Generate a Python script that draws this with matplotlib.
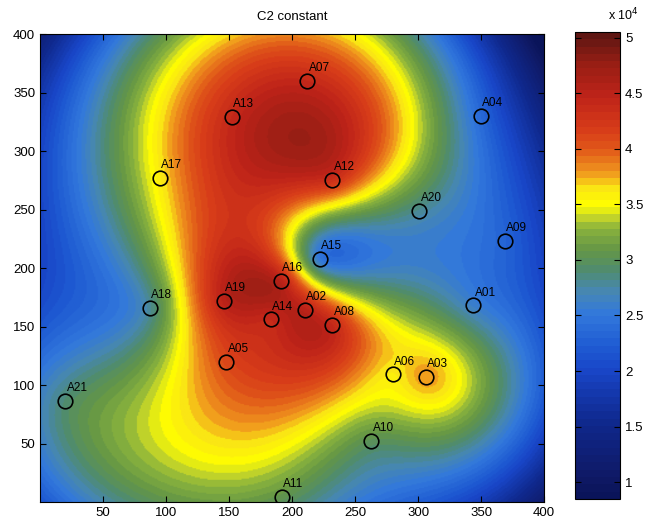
import numpy as np
import matplotlib
matplotlib.use("Agg")
import matplotlib.pyplot as plt
from matplotlib.colors import LinearSegmentedColormap, ListedColormap

plt.rcParams["font.family"] = ["Liberation Sans", "DejaVu Sans"]

names = ["A01","A02","A03","A04","A05","A06","A07","A08","A09","A10","A11",
         "A12","A13","A14","A15","A16","A17","A18","A19","A20","A21"]
px = [344, 210, 306, 350, 148, 280, 212, 232, 369, 263, 192,
      232, 152, 183, 222, 191, 95, 87, 146, 301, 20]
py = [168, 164, 107, 330, 120, 109, 360, 151, 223, 52, 4,
      275, 329, 156, 208, 189, 277, 166, 172, 249, 86]
# values in units of 1e4
vals = [2.6, 4.5, 3.8, 2.35, 4.1, 3.6, 4.4, 4.4, 2.3, 3.0, 3.05,
        4.3, 4.4, 4.4, 2.5, 4.5, 3.6, 2.8, 4.5, 2.8, 2.9]

vmin, vmax = 0.85, 5.05
cb_ticks = [1, 1.5, 2, 2.5, 3, 3.5, 4, 4.5, 5]
x_ticks = [50, 100, 150, 200, 250, 300, 350, 400]
y_ticks = [50, 100, 150, 200, 250, 300, 350, 400]

anchors = [
    (0.85, (10, 20, 90)), (1.0, (15, 25, 100)), (1.5, (15, 40, 140)),
    (2.0, (25, 70, 200)), (2.2, (30, 90, 210)), (2.5, (50, 120, 220)),
    (2.7, (70, 135, 180)), (2.9, (80, 140, 110)), (3.1, (100, 150, 70)),
    (3.3, (140, 180, 60)), (3.4, (200, 215, 40)), (3.5, (255, 255, 0)),
    (3.65, (250, 230, 20)), (3.8, (240, 150, 30)), (4.0, (225, 90, 25)),
    (4.2, (215, 60, 25)), (4.5, (190, 35, 25)), (4.8, (150, 30, 20)),
    (5.05, (95, 22, 18)),
]
cl = [((v - vmin) / (vmax - vmin), tuple(c / 255 for c in col)) for v, col in anchors]
base = LinearSegmentedColormap.from_list("c2", cl)
cmap = ListedColormap(base(np.linspace(0, 1, 64)))

# biharmonic spline interpolation (griddata 'v4')
xs = np.array(px, float); ys = np.array(py, float); zs = np.array(vals, float)
P = xs + 1j * ys
d = np.abs(P[:, None] - P[None, :])
with np.errstate(divide="ignore", invalid="ignore"):
    G = d**2 * (np.log(d) - 1)
G[np.isnan(G)] = 0
np.fill_diagonal(G, 0)
w = np.linalg.solve(G, zs)
gx = np.linspace(0, 400, 401)
GX, GY = np.meshgrid(gx, gx)
D = np.abs((GX + 1j * GY)[..., None] - P[None, None, :])
with np.errstate(divide="ignore", invalid="ignore"):
    GG = D**2 * (np.log(D) - 1)
GG[np.isnan(GG)] = 0
Z = GG @ w

fig = plt.figure(figsize=(6.5, 5.24), dpi=100)
ax = fig.add_axes([0.0615, 0.042, 0.7755, 0.893])
im = ax.imshow(Z, extent=[0, 400, 0, 400], origin="lower", cmap=cmap,
               vmin=vmin, vmax=vmax, aspect="auto", interpolation="bilinear")
ax.plot(xs, ys, "o", mfc="none", mec="black", ms=10.5, mew=1.2)
for n, x, y in zip(names, xs, ys):
    ax.annotate(n, (x, y), xytext=(1, 5), textcoords="offset points",
                fontsize=8.5, ha="left", va="bottom")
ax.set_xlim(0, 400); ax.set_ylim(0, 400)
ax.set_xticks(x_ticks); ax.set_yticks(y_ticks)
ax.tick_params(direction="in", top=True, right=True, labelsize=9.5, length=4)
ax.set_title("C2 constant", fontsize=9.5, pad=10)

cax = fig.add_axes([0.885, 0.048, 0.069, 0.891])
cb = fig.colorbar(im, cax=cax, ticks=cb_ticks)
cb.ax.set_yticklabels([f"{t:g}" for t in cb_ticks])
cb.ax.tick_params(direction="in", left=True, right=True, labelsize=9.5, length=4)
fig.text(0.935, 0.955, "x 10$^4$", fontsize=9, ha="left", va="bottom")

fig.savefig("out.png", dpi=100)
